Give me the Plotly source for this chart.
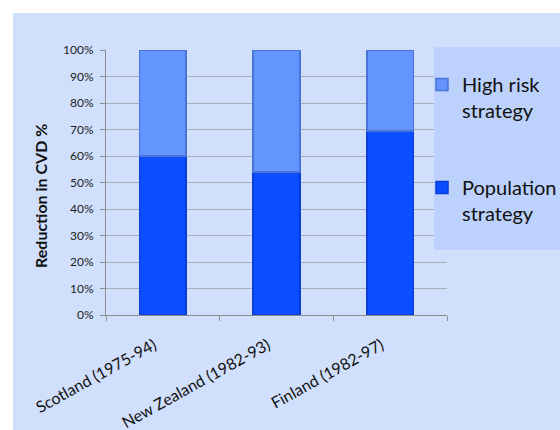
import plotly.graph_objects as go

categories = ["Scotland (1975-94)", "New Zealand (1982-93)", "Finland (1982-97)"]
population = [0.60, 0.54, 0.695]
high_risk = [0.40, 0.46, 0.305]
y_ticks = [0, 0.1, 0.2, 0.3, 0.4, 0.5, 0.6, 0.7, 0.8, 0.9, 1.0]
y_tick_labels = ["0%", "10%", "20%", "30%", "40%", "50%", "60%", "70%", "80%", "90%", "100%"]
y_title = "Reduction in CVD %"

W, H = 560, 430
L, R, T, B = 106, 113, 50, 115
PW, PH = W - L - R, H - T - B
BG = "#D0DFFC"
FONT = "Lato"


def px_x(p):
    return (p - L) / PW


def px_y(p):
    return (T + PH - p) / PH


fig = go.Figure()
fig.add_trace(go.Bar(
    x=categories, y=population, name="Population<br>strategy",
    marker=dict(color="#0A4EFF", line=dict(color="#0A3ED8", width=1.5)),
    width=0.41, legendgroup="b", legendrank=2,
))
fig.add_trace(go.Bar(
    x=categories, y=high_risk, name="High risk<br>strategy",
    marker=dict(color="#6495FF", line=dict(color="#4A74D8", width=1.5)),
    width=0.41, legendgroup="a", legendrank=1,
))

# chart area background (white strip on the left and top edges)
fig.add_shape(type="rect", xref="paper", yref="paper",
              x0=px_x(13), x1=px_x(W), y0=px_y(H), y1=px_y(13),
              fillcolor=BG, line=dict(width=0), layer="below")
# legend box
fig.add_shape(type="rect", xref="paper", yref="paper",
              x0=px_x(434), x1=px_x(W), y0=px_y(250), y1=px_y(47),
              fillcolor="#BCD2FC", line=dict(width=0), layer="above")

# y axis title
fig.add_annotation(text="<b>" + y_title + "</b>", xref="paper", yref="paper",
                   x=px_x(40), y=px_y(196), xanchor="center", yanchor="middle",
                   textangle=-90, showarrow=False,
                   font=dict(size=16, family=FONT, color="#111111"))

fig.update_layout(
    width=W, height=H,
    margin=dict(l=L, r=R, t=T, b=B, autoexpand=False),
    paper_bgcolor="white", plot_bgcolor=BG,
    barmode="stack",
    font=dict(family=FONT, color="#222222"),
    showlegend=True,
    legend=dict(
        x=px_x(422), y=px_y(65), xanchor="left", yanchor="top",
        bgcolor="rgba(0,0,0,0)", borderwidth=0,
        font=dict(size=20, family=FONT, color="#111111"),
        traceorder="grouped", tracegroupgap=48, valign="top",
        itemwidth=30,
    ),
    xaxis=dict(
        type="category", range=[-0.5, 2.5],
        showline=True, linecolor="#8C8C8C", linewidth=1,
        ticks="outside", tickson="boundaries", ticklen=5, tickcolor="#8C8C8C",
        tickangle=-29, tickfont=dict(size=16, family=FONT, color="#111111"),
        ticklabelstandoff=14, ticklabelshift=-9,
        showgrid=False,
    ),
    yaxis=dict(
        range=[0, 1.0], tickvals=y_ticks, ticktext=y_tick_labels,
        showline=True, linecolor="#8C8C8C", linewidth=1,
        ticks="outside", ticklen=5, tickcolor="#8C8C8C",
        tickfont=dict(size=12, family=FONT, color="#222222"),
        ticklabelstandoff=4,
        showgrid=True, gridcolor="#A8ADB8", gridwidth=1,
        zeroline=False,
    ),
)

fig.write_html("out.html")
